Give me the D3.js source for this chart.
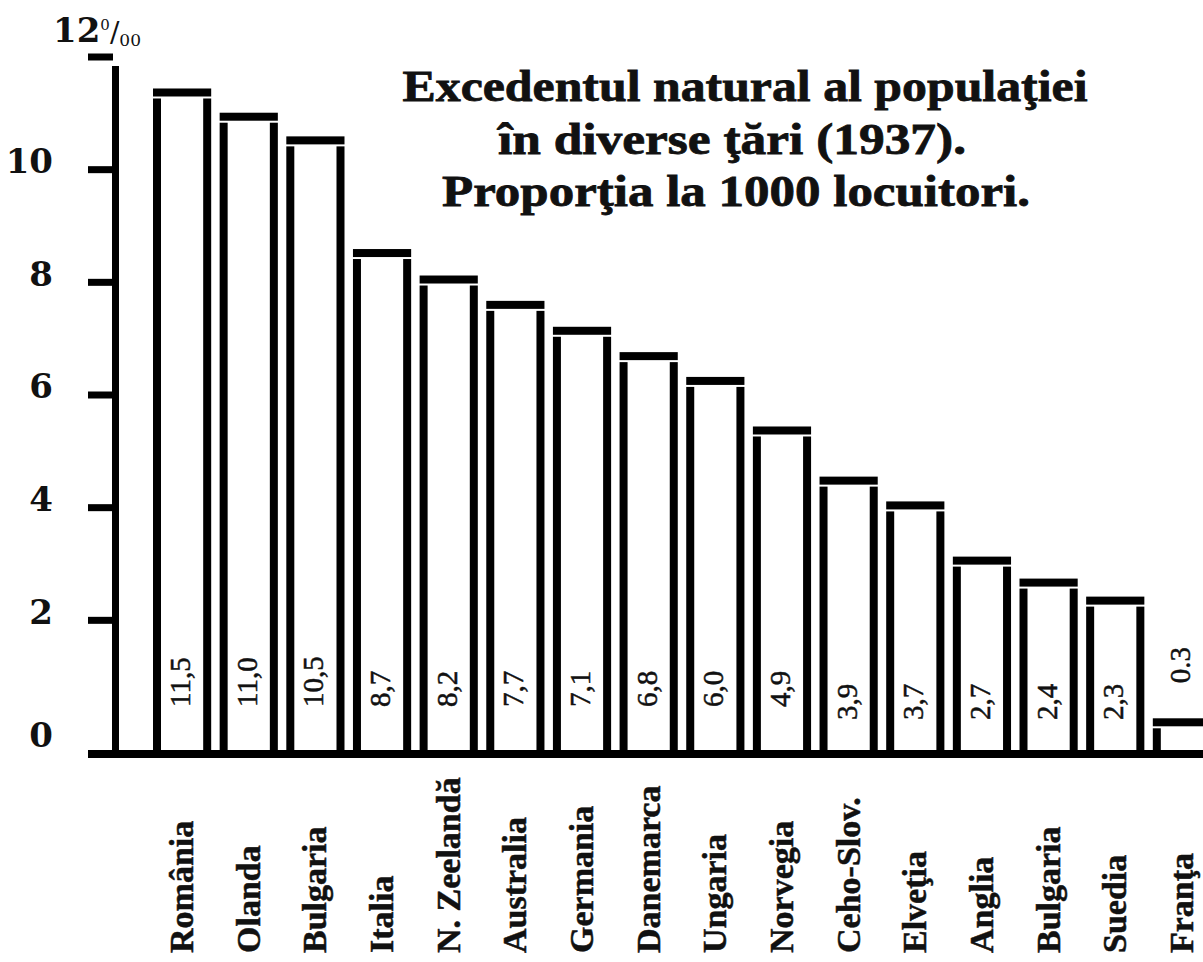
<!DOCTYPE html>
<html>
<head>
<meta charset="utf-8">
<script src="https://cdn.jsdelivr.net/npm/d3@7"></script>
<style>
  body { margin: 0; background: #fff; }
  svg { display: block; }
  text { fill: #111; }
</style>
</head>
<body>
<div id="chart"></div>
<script>
// countries, left to right
let countries = ['România', 'Olanda', 'Bulgaria', 'Italia', 'N. Zeelandă', 'Australia',
    'Germania', 'Danemarca', 'Ungaria', 'Norvegia', 'Ceho-Slov.', 'Elveţia',
    'Anglia', 'Bulgaria', 'Suedia', 'Franţa'];

// printed values (per 1000)
let valueLabels = ['11,5', '11,0', '10,5', '8,7', '8,2', '7,7', '7,1', '6,8',
    '6,0', '4,9', '3,9', '3,7', '2,7', '2,4', '2,3', '0.3'];

// bar tops as drawn, read against the printed axis
let barHeights = [11.37, 10.94, 10.52, 8.52, 8.05, 7.60, 7.14, 6.69,
    6.25, 5.37, 4.48, 4.04, 3.06, 2.67, 2.35, 0.19];

let yTicks = [0, 2, 4, 6, 8, 10];
let yMarks = [2, 4, 6, 8, 10, 12];

let titleLines = ['Excedentul natural al populaţiei', 'în diverse ţări (1937).', 'Proporţia la 1000 locuitori.'];

function barChart(parentId) {
    let width = 1203;
    let height = 962;
    let baseline = 751;

    let svg = d3.select('#' + parentId).append('svg')
        .attr('width', width)
        .attr('height', height);

    svg.append('rect').attr('width', width).attr('height', height).attr('fill', '#fff');

    let xScale = d3.scaleBand()
        .domain(d3.range(countries.length))
        .range([153, 1211])
        .paddingInner(0.127)
        .paddingOuter(0);

    let yScale = d3.scaleLinear()
        .domain([0, 12])
        .range([733, 57]);

    // axes
    let axisG = svg.append('g').classed('axis-g', true);
    axisG.append('rect')
        .attr('x', 112).attr('y', 66)
        .attr('width', 7).attr('height', baseline - 66)
        .attr('fill', '#000');
    axisG.append('rect')
        .attr('x', 88).attr('y', 750)
        .attr('width', width - 88).attr('height', 8)
        .attr('fill', '#000');

    axisG.selectAll('.tick-mark')
        .data(yMarks)
        .enter()
        .append('rect')
        .classed('tick-mark', true)
        .attr('x', 88)
        .attr('y', d => yScale(d) - 3.5)
        .attr('width', 25)
        .attr('height', 7)
        .attr('fill', '#000');

    axisG.selectAll('.tick-label')
        .data(yTicks)
        .enter()
        .append('text')
        .classed('tick-label', true)
        .attr('x', 53)
        .attr('y', d => yScale(d) + (d === 0 ? 2 : -9))
        .attr('dy', '0.36em')
        .attr('text-anchor', 'end')
        .style('font-family', '"DejaVu Serif", serif')
        .style('font-weight', 'bold')
        .style('font-size', '34px')
        .text(d => d);

    // 12 ‰ label on top
    let topLabel = axisG.append('text')
        .attr('x', 53).attr('y', 42)
        .style('font-family', '"DejaVu Serif", serif')
        .style('font-weight', 'bold')
        .style('font-size', '34px');
    topLabel.append('tspan').text('12');
    topLabel.append('tspan')
        .attr('dy', -12)
        .style('font-size', '15px').style('font-weight', 'normal')
        .text('0');
    topLabel.append('tspan')
        .attr('dy', 12)
        .style('font-size', '28px').style('font-weight', 'normal')
        .text('/');
    topLabel.append('tspan')
        .attr('dy', 4)
        .style('font-size', '17px').style('font-weight', 'normal')
        .text('00');

    // bars: thick sides and a top bar, open at the bottom
    let barG = svg.append('g').classed('bar-g', true);
    let bars = barG.selectAll('.bar')
        .data(barHeights)
        .enter()
        .append('g')
        .classed('bar', true);

    bars.append('rect')
        .attr('x', (d, i) => xScale(i))
        .attr('y', d => yScale(d) - 4)
        .attr('width', xScale.bandwidth())
        .attr('height', 8)
        .attr('fill', '#000');

    bars.append('rect')
        .attr('x', (d, i) => xScale(i))
        .attr('y', d => yScale(d) + 6)
        .attr('width', 8)
        .attr('height', d => baseline - yScale(d) - 6)
        .attr('fill', '#000');

    bars.append('rect')
        .attr('x', (d, i) => xScale(i) + xScale.bandwidth() - 8)
        .attr('y', d => yScale(d) + 6)
        .attr('width', 8)
        .attr('height', d => baseline - yScale(d) - 6)
        .attr('fill', '#000');

    // value labels, rotated, inside the bar (above it when it is too short)
    barG.selectAll('.value')
        .data(valueLabels)
        .enter()
        .append('text')
        .classed('value', true)
        .attr('transform', function (d, i) {
            let cx = xScale(i) + xScale.bandwidth() / 2 + 8;
            let top = yScale(barHeights[i]);
            let y0 = i >= 10 ? 720 : 707;
            if (top > y0 - 60) y0 = top - 39;
            return 'translate(' + cx + ',' + y0 + ') rotate(-90)';
        })
        .style('font-family', '"Liberation Serif", serif')
        .style('font-size', '29px')
        .style('stroke', '#111')
        .style('stroke-width', 0.5)
        .text(d => d);

    // country names under the axis
    svg.append('g').classed('names', true)
        .selectAll('text')
        .data(countries)
        .enter()
        .append('text')
        .attr('transform', function (d, i) {
            let cx = xScale(i) + xScale.bandwidth() / 2 + 11;
            return 'translate(' + cx + ',953) rotate(-90)';
        })
        .style('font-family', '"Liberation Serif", serif')
        .style('font-weight', 'bold')
        .style('font-size', '34px')
        .style('stroke', '#111')
        .style('stroke-width', 0.5)
        .text(d => d);

    // title
    let titleLens = [685, 468, 588];
    let titleMid = [745, 732, 736];
    let titleBase = [101, 154, 206];
    svg.append('g').classed('title', true)
        .selectAll('text')
        .data(titleLines)
        .enter()
        .append('text')
        .attr('x', (d, i) => titleMid[i] - titleLens[i] / 2)
        .attr('y', (d, i) => titleBase[i])
        .attr('textLength', (d, i) => titleLens[i])
        .attr('lengthAdjust', 'spacingAndGlyphs')
        .style('font-family', '"Liberation Serif", serif')
        .style('font-weight', 'bold')
        .style('font-size', '44px')
        .style('stroke', '#111')
        .style('stroke-width', 0.8)
        .text(d => d);
}

barChart('chart');
</script>
</body>
</html>
